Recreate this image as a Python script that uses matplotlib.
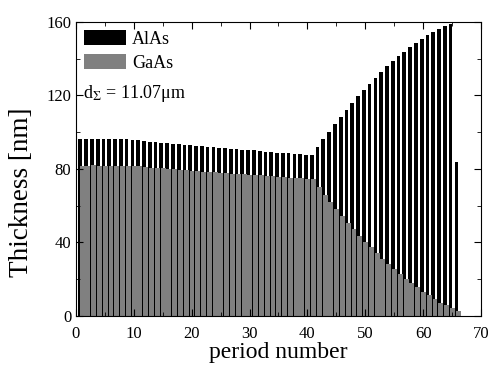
import numpy as np
import matplotlib
matplotlib.use("Agg")
import matplotlib.pyplot as plt
from matplotlib.ticker import MultipleLocator

plt.rcParams["font.family"] = ["Liberation Serif", "DejaVu Serif"]
plt.rcParams["mathtext.fontset"] = "stix"

# --- data ---
period = list(range(1, 67))

alas = [96.0, 96.0, 96.0, 96.0, 96.0, 96.0, 96.0, 96.0, 96.0, 95.8,
        95.5, 95.2, 94.8, 94.5, 94.3, 94.0, 93.7, 93.4, 93.2, 93.0,
        92.7, 92.4, 92.1, 91.9, 91.6, 91.3, 91.0, 90.7, 90.5, 90.2,
        90.0, 89.7, 89.4, 89.1, 88.8, 88.6, 88.4, 88.2, 88.0, 87.8,
        87.3, 91.8, 96.0, 100.1, 104.3, 108.3, 112.1, 115.9, 119.6, 123.0,
        126.3, 129.5, 132.8, 135.7, 138.4, 141.1, 143.8, 146.4, 148.4, 150.6,
        152.6, 154.6, 156.0, 157.7, 158.9, 84.0]

gaas = [81.8, 81.8, 81.9, 81.8, 81.8, 81.8, 81.8, 81.8, 81.8, 81.6,
        81.3, 81.0, 80.7, 80.4, 80.2, 80.0, 79.8, 79.5, 79.2, 79.0,
        78.7, 78.5, 78.3, 78.1, 77.9, 77.6, 77.4, 77.2, 77.0, 76.8,
        76.6, 76.4, 76.2, 76.0, 75.8, 75.5, 75.3, 75.0, 74.8, 74.6,
        74.5, 70.0, 65.9, 61.9, 58.0, 54.4, 50.8, 47.2, 43.5, 40.1,
        37.4, 34.1, 31.0, 28.1, 25.6, 22.9, 20.0, 17.8, 15.6, 13.2,
        11.2, 9.1, 7.3, 5.8, 4.5, 2.7]

x = np.array(period)

fig = plt.figure(figsize=(4.89, 3.65), dpi=100)
ax = fig.add_axes([0.1554, 0.1342, 0.8282, 0.8063])

ax.bar(x - 0.25, alas, width=0.65, color="black", linewidth=0, label="AlAs")
ax.bar(x + 0.05, gaas, width=0.85, color="#808080", linewidth=0, label="GaAs")

ax.set_xlim(0, 70)
ax.set_ylim(0, 160)
ax.xaxis.set_major_locator(MultipleLocator(10))
ax.xaxis.set_minor_locator(MultipleLocator(5))
ax.yaxis.set_major_locator(MultipleLocator(40))
ax.yaxis.set_minor_locator(MultipleLocator(20))
ax.tick_params(which="both", direction="in", top=True, right=True, labelsize=12)
ax.tick_params(which="major", length=5)
ax.tick_params(which="minor", length=3)
ax.tick_params(axis="x", pad=7)

ax.set_xlabel("period number", fontsize=17, labelpad=0.5)
# y label sits a bit below the axes centre in the original
fig.text(22 / 489, 1 - 192 / 365, "Thickness [nm]", rotation=90, fontsize=19.5,
         ha="center", va="center")

leg = ax.legend(loc="upper left", frameon=False, fontsize=13, handlelength=2.3,
                handleheight=0.9, handletextpad=0.35, labelspacing=0.35,
                borderaxespad=0.25, borderpad=0.2)

ax.text(0.017, 0.74, "d$_\\Sigma$ = 11.07μm", transform=ax.transAxes, fontsize=13)

fig.savefig("out.png", dpi=100)
